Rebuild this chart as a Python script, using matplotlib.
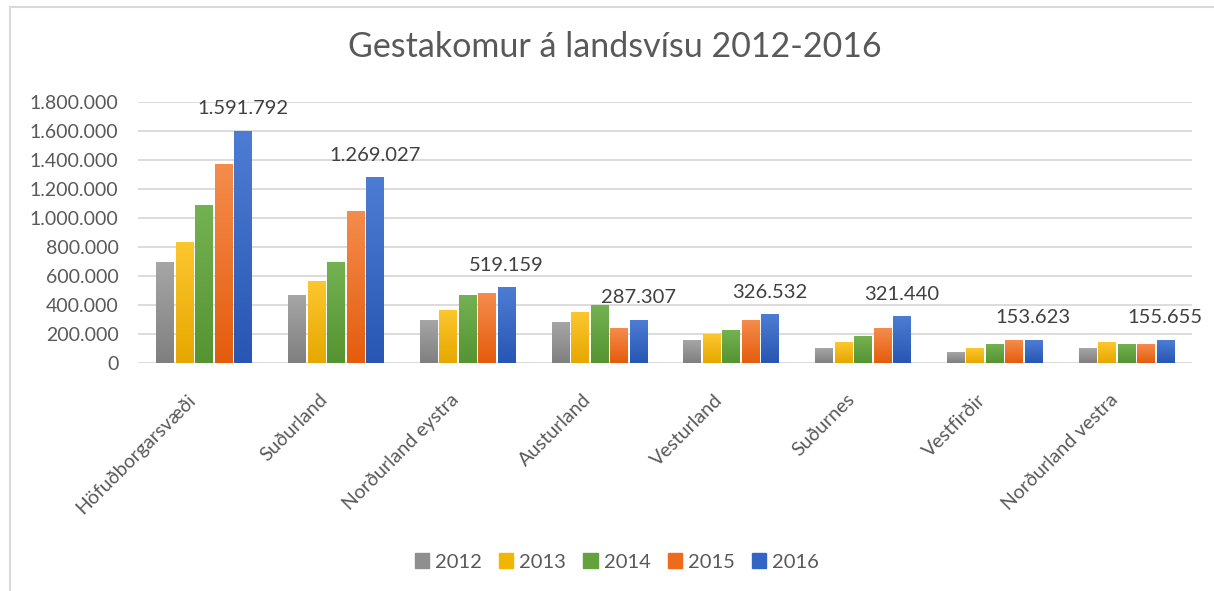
import matplotlib
matplotlib.use("Agg")
import matplotlib.pyplot as plt
import numpy as np
from matplotlib.colors import LinearSegmentedColormap
from matplotlib.ticker import FuncFormatter, MultipleLocator
from matplotlib.lines import Line2D
from matplotlib.patches import Patch
from matplotlib.transforms import ScaledTranslation

plt.rcParams['font.family'] = ['Lato', 'DejaVu Sans']

regions = ["Höfuðborgarsvæði", "Suðurland", "Norðurland eystra", "Austurland",
           "Vesturland", "Suðurnes", "Vestfirðir", "Norðurland vestra"]
years = ["2012", "2013", "2014", "2015", "2016"]
v2012 = [697000, 468000, 293000, 277000, 155000, 102000, 72000, 102000]
v2013 = [831000, 562000, 362000, 347000, 197000, 141000, 102000, 141000]
v2014 = [1089000, 697000, 466000, 397000, 224000, 183000, 128000, 128000]
v2015 = [1372000, 1050000, 482000, 236000, 293000, 238000, 155000, 128000]
v2016 = [1602000, 1280000, 519000, 293000, 333000, 319000, 155000, 155000]
labels_2016 = ["1.591.792", "1.269.027", "519.159", "287.307",
               "326.532", "321.440", "153.623", "155.655"]
series = [v2012, v2013, v2014, v2015, v2016]

top_colors = ["#a6a6a6", "#fcc72e", "#74b152", "#f58c4c", "#4d7dd3"]
bot_colors = ["#7f7f7f", "#e6a700", "#559431", "#e45c0c", "#2756b3"]
mid_colors = ["#8f8f8f", "#f2b600", "#62a33d", "#ee6a1c", "#3366c4"]

W, H = 1214, 591
fig = plt.figure(figsize=(W / 100, H / 100), dpi=100)
fig.patch.set_facecolor("white")

# frame lines
fig.add_artist(Line2D([10 / W, 10 / W], [0, 1 - 7 / H], color="#d9d9d9", lw=1.5))
fig.add_artist(Line2D([10 / W, 1], [1 - 7 / H, 1 - 7 / H], color="#d9d9d9", lw=1.5))

ax = fig.add_axes([138 / W, 228.5 / H, (1192 - 138) / W, 260.5 / H])

x = np.arange(len(regions))
step = 0.148
bw = 0.13
grad = np.linspace(0, 1, 256).reshape(-1, 1)
for i, (vals, tc, bc, mc) in enumerate(zip(series, top_colors, bot_colors, mid_colors)):
    pos = x + (i - 2) * step
    bars = ax.bar(pos, vals, width=bw, color=mc, edgecolor=tc, linewidth=0.6,
                  label=years[i], zorder=3)
    cmap = LinearSegmentedColormap.from_list("g%d" % i, [bc, tc])
    for b in bars:
        x0 = b.get_x()
        im = ax.imshow(grad, cmap=cmap, origin="lower", aspect="auto",
                       extent=[x0, x0 + b.get_width(), 0, b.get_height()], zorder=3.5)
        im.set_clip_path(b)
    if i == 4:
        for p, v, t in zip(pos, vals, labels_2016):
            ax.annotate(t, (p, v), xytext=(0, 16), textcoords="offset points",
                        ha="center", va="center", fontsize=14.5, color="#404040")

ax.set_xlim(-0.5, len(regions) - 0.5)
ax.set_ylim(0, 1800000)
ax.yaxis.set_major_locator(MultipleLocator(200000))
ax.yaxis.set_major_formatter(FuncFormatter(lambda v, p: "{:,.0f}".format(v).replace(",", ".")))
ax.grid(axis="y", color="#d9d9d9", linewidth=1.3, zorder=0)
ax.set_axisbelow(True)
for s in ax.spines.values():
    s.set_visible(False)
ax.tick_params(axis="both", length=0, colors="#595959")
ax.tick_params(axis="y", pad=14, labelsize=14)
ax.set_xticks(x)
ax.set_xticklabels(regions, rotation=45, ha="right", va="center", rotation_mode="anchor")
ax.tick_params(axis="x", pad=19, labelsize=14)
shift = ScaledTranslation(-11 / 100, -8 / 100, fig.dpi_scale_trans)
for lbl in ax.get_xticklabels():
    lbl.set_transform(lbl.get_transform() + shift)

fig.text(615 / W, 1 - 47 / H, "Gestakomur á landsvísu 2012-2016", ha="center",
         va="center", fontsize=24.5, color="#595959")

handles = [Patch(facecolor=c, edgecolor=c) for c in mid_colors]
fig.legend(handles, years, loc="center", bbox_to_anchor=(617 / W, 1 - 562 / H),
           ncol=5, frameon=False, fontsize=14.5, handlelength=0.7, handleheight=0.7,
           handletextpad=0.3, columnspacing=0.85, labelcolor="#595959")

fig.savefig("out.png", dpi=100)
